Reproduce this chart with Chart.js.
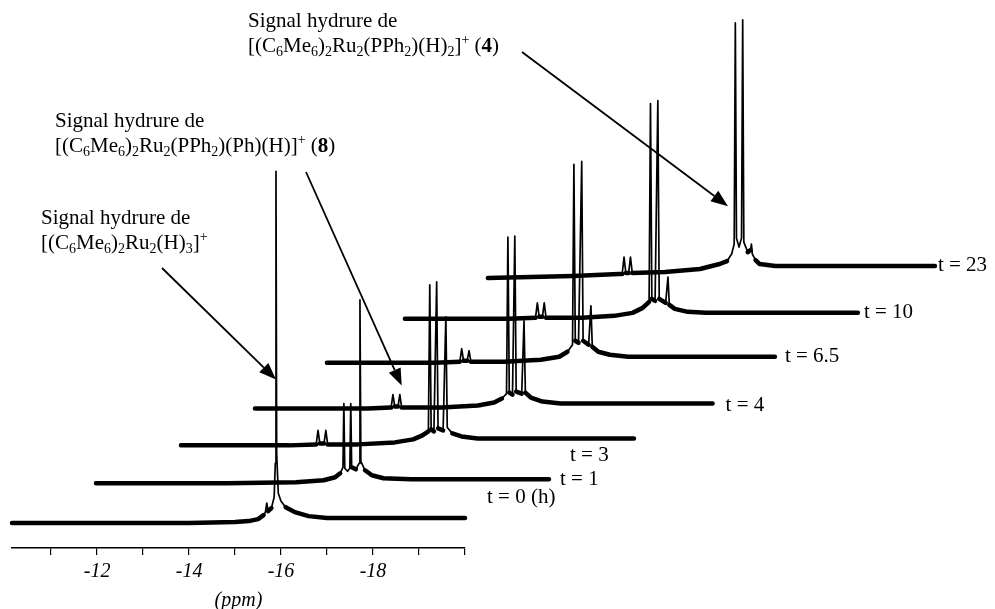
<!DOCTYPE html>
<html>
<head>
<meta charset="utf-8">
<script src="https://cdn.jsdelivr.net/npm/chart.js@4/dist/chart.umd.min.js"></script>
<style>
  html, body { margin: 0; padding: 0; background: #fff; }
  #wrap { width: 995px; height: 609px; position: relative; }
</style>
</head>
<body>
<div id="wrap"><canvas id="nmr"></canvas></div>
<script>
// 1H NMR hydride region, one trace per reaction time.
// points: [ppm, intensity above the trace's own baseline]
const times = ['0 (h)', '1', '3', '4', '6.5', '10', '23'];

const t0 = [[-10.15,0],[-12.0,0],[-14.0,0],[-15.0,1],[-15.3,2],[-15.5,4],[-15.62,8],[-15.66,11],[-15.69,20],
  [-15.72,12],[-15.79,15],[-15.85,26],[-15.875,60],[-15.89,353],[-15.905,70],[-15.94,30],[-16.0,22],[-16.1,16],
  [-16.3,11],[-16.6,7],[-17.0,5],[-18.5,5],[-20.0,5]];

const t1 = [[-10.15,0],[-13.0,0],[-14.5,1],[-15.1,3],[-15.35,6],[-15.46,10],[-15.52,16],[-15.54,80],[-15.56,15],
  [-15.62,12],[-15.67,15],[-15.69,80],[-15.71,16],[-15.80,14],[-15.87,20],[-15.89,184],[-15.91,22],[-16.0,13],
  [-16.15,8],[-16.4,5],[-17.0,4],[-20.0,4]];

const t3 = [[-10.15,0],[-12.5,0],[-13.09,1],[-13.13,15],[-13.17,2],[-13.26,2],[-13.30,15],[-13.34,1],[-14.0,1],
  [-14.8,3],[-15.2,6],[-15.4,10],[-15.53,14],[-15.56,161],[-15.59,16],[-15.65,14],[-15.71,164],[-15.74,17],
  [-15.85,15],[-15.91,129],[-15.94,18],[-16.05,12],[-16.25,9],[-16.6,7],[-17.5,7],[-20.0,7]];

const t4 = [[-10.15,0],[-12.6,0],[-13.11,1],[-13.15,14],[-13.19,2],[-13.26,2],[-13.30,14],[-13.34,1],[-14.2,1],
  [-15.0,3],[-15.35,6],[-15.52,10],[-15.62,15],[-15.65,172],[-15.68,16],[-15.75,14],[-15.80,173],[-15.83,17],
  [-15.95,15],[-16.00,88],[-16.03,16],[-16.15,11],[-16.4,7],[-16.8,5],[-20.1,5]];

const t6_5 = [[-10.15,0],[-12.5,0],[-13.04,1],[-13.08,14],[-13.12,2],[-13.20,2],[-13.24,12],[-13.28,1],[-14.0,1],
  [-14.8,3],[-15.2,6],[-15.38,11],[-15.49,18],[-15.52,199],[-15.55,22],[-15.62,20],[-15.69,202],[-15.72,22],
  [-15.84,18],[-15.89,57],[-15.92,16],[-16.05,11],[-16.3,8],[-16.7,6],[-19.89,6]];

const t10 = [[-10.15,0],[-12.4,0],[-12.99,1],[-13.03,16],[-13.07,2],[-13.14,2],[-13.18,16],[-13.22,1],[-14.0,1],
  [-14.7,3],[-15.1,6],[-15.32,11],[-15.46,17],[-15.49,216],[-15.52,20],[-15.59,18],[-15.65,219],[-15.68,20],
  [-15.82,16],[-15.87,42],[-15.90,14],[-16.02,10],[-16.3,7],[-16.7,6],[-20.0,6]];

const t23 = [[-10.15,0],[-12.0,2],[-13.0,4],[-13.07,4],[-13.11,21],[-13.15,5],[-13.21,5],[-13.25,21],[-13.29,5],
  [-14.0,6],[-14.76,9],[-15.19,14],[-15.35,17],[-15.45,24],[-15.505,34],[-15.53,256],[-15.555,40],[-15.61,31],
  [-15.665,40],[-15.69,259],[-15.715,36],[-15.80,26],[-15.86,28],[-15.88,34],[-15.90,24],[-15.97,18],[-16.06,14],
  [-16.4,12],[-17.0,12],[-19.87,12]];

const spectra = [t0, t1, t3, t4, t6_5, t10, t23];

// waterfall stacking: shift of each trace to the right (ppm) and upwards
const stepPpm = [0, 1.826, 3.674, 5.283, 6.848, 8.543, 10.348];
const stepUp = [25, 65, 103, 140, 186, 230, 271];

const axisTicks = [-11, -12, -13, -14, -15, -16, -17, -18, -19, -20];

const SERIF = '"Liberation Serif", "Times New Roman", serif';

// "t = ..." labels, offset in px from the last point of each trace
const timeLabelOffset = [[22, -26], [11, -4], [-64, 10], [13, -3], [10, -6], [6, -6], [3, -13]];

// compound labels with arrows pointing at a trace position
const notes = [
  { lines: ['Signal hydrure de', '[(C_6Me_6)_2Ru_2(PPh_2)(H)_2]^+ (*4*)'], x: 248, y: 27,
    from: [522, 52], tip: { trace: 6, ppm: -15.37, h: 72 } },
  { lines: ['Signal hydrure de', '[(C_6Me_6)_2Ru_2(PPh_2)(Ph)(H)]^+ (*8*)'], x: 55, y: 127,
    from: [306, 172], tip: { trace: 3, ppm: -13.34, h: 23 } },
  { lines: ['Signal hydrure de', '[(C_6Me_6)_2Ru_2(H)_3]^+'], x: 41, y: 224,
    from: [162, 268], tip: { trace: 0, ppm: -15.89, h: 144 } }
];

// split "C_6" / "]^+" / "*4*" markup into runs
function parseRuns(str) {
  const runs = [];
  let buf = '', bold = false;
  for (let i = 0; i < str.length; i++) {
    const c = str[i];
    if (c === '_' || c === '^') {
      if (buf) runs.push({ t: buf, bold });
      buf = '';
      runs.push({ t: str[i + 1], kind: c === '_' ? 'sub' : 'sup', bold });
      i++;
    } else if (c === '*') {
      if (buf) runs.push({ t: buf, bold });
      buf = '';
      bold = !bold;
    } else {
      buf += c;
    }
  }
  if (buf) runs.push({ t: buf, bold });
  return runs;
}

function drawRich(ctx, str, x, y) {
  for (const r of parseRuns(str)) {
    let size = 21, dy = 0;
    if (r.kind === 'sub') { size = 14; dy = 4; }
    if (r.kind === 'sup') { size = 14; dy = -8; }
    ctx.font = (r.bold ? 'bold ' : '') + size + 'px ' + SERIF;
    ctx.fillText(r.t, x, y + dy);
    x += ctx.measureText(r.t).width;
  }
}

function drawArrow(ctx, x1, y1, x2, y2) {
  const ang = Math.atan2(y2 - y1, x2 - x1);
  const len = 17, half = 6.5;
  const bx = x2 - len * Math.cos(ang), by = y2 - len * Math.sin(ang);
  ctx.beginPath();
  ctx.moveTo(x1, y1);
  ctx.lineTo(bx, by);
  ctx.lineWidth = 1.8;
  ctx.stroke();
  ctx.beginPath();
  ctx.moveTo(x2, y2);
  ctx.lineTo(bx + half * Math.sin(ang), by - half * Math.cos(ang));
  ctx.lineTo(bx - half * Math.sin(ang), by + half * Math.cos(ang));
  ctx.closePath();
  ctx.fill();
}

const annotate = {
  id: 'annotate',
  afterDatasetsDraw(chart) {
    const ctx = chart.ctx;
    const xs = chart.scales.x, ys = chart.scales.y;
    ctx.save();
    ctx.fillStyle = '#000';
    ctx.strokeStyle = '#000';

    // time labels at the right end of each trace
    ctx.textBaseline = 'middle';
    ctx.font = '21px ' + SERIF;
    spectra.forEach((pts, i) => {
      const last = pts[pts.length - 1];
      const px = xs.getPixelForValue(last[0] - stepPpm[i]);
      const py = ys.getPixelForValue(stepUp[i]);
      ctx.fillText('t = ' + times[i], px + timeLabelOffset[i][0], py + timeLabelOffset[i][1]);
    });

    ctx.textBaseline = 'alphabetic';
    for (const n of notes) {
      n.lines.forEach((line, k) => drawRich(ctx, line, n.x, n.y + k * 25));
      const tx = xs.getPixelForValue(n.tip.ppm - stepPpm[n.tip.trace]);
      const ty = ys.getPixelForValue(n.tip.h + stepUp[n.tip.trace]);
      drawArrow(ctx, n.from[0], n.from[1], tx, ty);
    }
    ctx.restore();
  }
};

const datasets = spectra.map((pts, i) => ({
  label: 't = ' + times[i],
  data: pts.map(p => ({ x: p[0] - stepPpm[i], y: p[1] + stepUp[i] })),
  borderColor: '#000',
  borderWidth: 1.7,
  borderJoinStyle: 'round',
  borderCapStyle: 'round',
  pointRadius: 0,
  tension: 0,
  clip: false,
  segment: {
    // flat stretches carry the noise, so draw them as a heavier band
    borderWidth: ctx => {
      const a = ctx.p0.parsed, b = ctx.p1.parsed;
      const slope = Math.abs((b.y - a.y) / (b.x - a.x));
      return slope < 45 ? 4.5 : 1.7;
    }
  }
}));

new Chart(document.getElementById('nmr'), {
  type: 'line',
  data: { datasets },
  options: {
    responsive: true,
    maintainAspectRatio: false,
    animation: false,
    events: [],
    layout: { padding: { left: 12, right: 530, top: 0, bottom: 0 } },
    plugins: { legend: { display: false }, tooltip: { enabled: false } },
    scales: {
      x: {
        type: 'linear',
        reverse: true,
        min: -20,
        max: -10.15,
        afterBuildTicks: scale => { scale.ticks = axisTicks.map(v => ({ value: v })); },
        ticks: {
          autoSkip: false,
          maxRotation: 0,
          padding: 5,
          color: '#000',
          font: { family: SERIF, size: 20, style: 'italic' },
          callback: v => (v % 2 === 0 && v > -20 ? String(v) : '')
        },
        grid: { drawOnChartArea: false, drawTicks: true, tickLength: 7, color: '#000', lineWidth: 1.2 },
        border: { display: true, color: '#000', width: 1.5 },
        title: {
          display: true,
          text: '(ppm)',
          color: '#000',
          padding: { top: 4, bottom: 0 },
          font: { family: SERIF, size: 20, style: 'italic', lineHeight: 0.8 }
        }
      },
      y: { display: false, min: 0, max: 550 }
    }
  },
  plugins: [annotate]
});
</script>
</body>
</html>
